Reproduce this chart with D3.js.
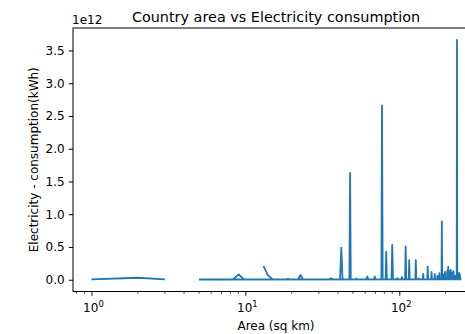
<!DOCTYPE html>
<html>
<head>
<meta charset="utf-8">
<script src="https://cdn.jsdelivr.net/npm/d3@7"></script>
<style>
  body { margin: 0; background: #fff; }
  svg { display: block; font-family: "DejaVu Sans", sans-serif; }
</style>
</head>
<body>
<svg id="chart" width="465" height="334"></svg>
<script>
// data in drawing order, null = gap in the line
const areas = [
  1, 2, 3, 4,
  5, 6.5, 8.3, 9.05, 9.8, 11, 12.4, 12.8,
  13.1, 14, 15, 18.4, 18.9, 19.4, 22, 22.8, 23.7, 35, 36, 37,
  41.2, 42, 42.8, 47.4, 47.9, 48.4, 52, 52.6, 53.2, 61, 62, 63,
  68.5, 69.3, 70, 76.5, 77.2, 78, 81.5, 82.2, 83, 89, 90, 91,
  96, 97, 98, 103, 104, 105, 109, 110, 111, 115.2, 116, 117,
  127, 128, 129, 133, 134, 135, 142, 143, 144, 152, 153, 154,
  161, 162, 163, 169, 170, 171, 176, 177, 178, 181, 182, 183,
  188, 189, 190, 194, 195, 196, 198, 199, 204, 205, 206, 208, 209,
  212, 213, 214, 216, 217, 221, 222, 223, 225, 226, 231, 233,
  236, 237, 238, 242, 243, 246, 250, 6
];
const consumption = [
  5e9, 30e9, 5e9, null,
  3e9, 3e9, 4e9, 80e9, 4e9, 3e9, 3e9, null,
  210e9, 70e9, 8e9, 3e9, 14e9, 3e9, 4e9, 72e9, 4e9, 3e9, 22e9, 3e9,
  4e9, 490e9, 4e9, 4e9, 1630e9, 4e9, 3e9, 20e9, 3e9, 4e9, 50e9, 4e9,
  4e9, 50e9, 4e9, 4e9, 2660e9, 4e9, 4e9, 430e9, 4e9, 4e9, 530e9, 4e9,
  3e9, 25e9, 3e9, 4e9, 40e9, 4e9, 4e9, 510e9, 4e9, 4e9, 300e9, 4e9,
  4e9, 300e9, 4e9, 3e9, 20e9, 3e9, 4e9, 90e9, 4e9, 4e9, 200e9, 4e9,
  4e9, 120e9, 4e9, 4e9, 90e9, 4e9, 4e9, 60e9, 4e9, 4e9, 100e9, 4e9,
  4e9, 890e9, 4e9, 4e9, 80e9, 4e9, 120e9, 4e9, 4e9, 140e9, 4e9, 200e9, 4e9,
  4e9, 130e9, 4e9, 150e9, 4e9, 4e9, 110e9, 4e9, 130e9, 4e9, 60e9, 4e9,
  4e9, 3660e9, 4e9, 100e9, 4e9, 100e9, 4e9, 3e9
];
const yTicks = [0, 0.5e12, 1e12, 1.5e12, 2e12, 2.5e12, 3e12, 3.5e12];
const xTicks = [1, 10, 100];

const points = areas.map((a, i) => ({area: a, kwh: consumption[i]}));

const plotLeft = 73, plotRight = 479, plotTop = 28, plotBottom = 291.5;
const svg = d3.select('#chart');

// matplotlib style 5% margins
const valid = points.filter(d => d.kwh != null);
const lx = d3.extent(valid, d => Math.log10(d.area));
const padX = (lx[1] - lx[0]) * 0.05;
const x = d3.scaleLog()
  .domain([Math.pow(10, lx[0] - padX), Math.pow(10, lx[1] + padX)])
  .range([plotLeft, plotRight]);
const ey = d3.extent(valid, d => d.kwh);
const padY = (ey[1] - ey[0]) * 0.05;
const y = d3.scaleLinear()
  .domain([ey[0] - padY, ey[1] + padY])
  .range([plotBottom, plotTop]);

svg.append('clipPath').attr('id', 'clip')
  .append('rect')
  .attr('x', plotLeft).attr('y', plotTop)
  .attr('width', plotRight - plotLeft).attr('height', plotBottom - plotTop);

const line = d3.line()
  .defined(d => d.kwh != null)
  .x(d => x(d.area))
  .y(d => y(d.kwh));

svg.append('path')
  .datum(points)
  .attr('clip-path', 'url(#clip)')
  .attr('fill', 'none')
  .attr('stroke', '#1f77b4')
  .attr('stroke-width', 1.8)
  .attr('stroke-linejoin', 'round')
  .attr('d', line);

// x axis (log)
const xAxis = svg.append('g')
  .attr('transform', 'translate(0,' + plotBottom + ')')
  .call(d3.axisBottom(x).tickValues(xTicks).tickSize(4.2).tickFormat(''));
xAxis.select('.domain').remove();
xAxis.selectAll('line').attr('stroke', '#000').attr('stroke-width', 1);

const minor = [];
for (let e = -1; e <= 2; e++) {
  for (let m = 2; m <= 9; m++) {
    const v = m * Math.pow(10, e);
    if (v >= x.domain()[0] && v <= x.domain()[1]) minor.push(v);
  }
}
svg.append('g').selectAll('line')
  .data(minor)
  .enter()
  .append('line')
  .attr('x1', d => x(d)).attr('x2', d => x(d))
  .attr('y1', plotBottom).attr('y2', plotBottom + 2.4)
  .attr('stroke', '#000')
  .attr('stroke-width', 0.7);

const xl = svg.append('g').selectAll('text')
  .data(xTicks)
  .enter()
  .append('text')
  .attr('x', d => x(d) + 2)
  .attr('y', 312)
  .attr('text-anchor', 'middle')
  .attr('font-size', 12)
  .attr('fill', '#000');
xl.append('tspan').text('10');
xl.append('tspan')
  .attr('font-size', 8.5)
  .attr('dy', -5.5)
  .text(d => Math.round(Math.log10(d)));

// y axis
const yAxis = svg.append('g')
  .attr('transform', 'translate(' + plotLeft + ',0)')
  .call(d3.axisLeft(y).tickValues(yTicks).tickSize(4.2).tickPadding(4.2)
    .tickFormat(d => (d / 1e12).toFixed(1)));
yAxis.select('.domain').remove();
yAxis.selectAll('line').attr('stroke', '#000').attr('stroke-width', 1);
yAxis.selectAll('text')
  .attr('font-size', 12)
  .attr('font-family', '"DejaVu Sans", sans-serif')
  .attr('fill', '#000');

// spines
svg.append('rect')
  .attr('x', plotLeft).attr('y', plotTop)
  .attr('width', plotRight - plotLeft).attr('height', plotBottom - plotTop)
  .attr('fill', 'none')
  .attr('stroke', '#000')
  .attr('stroke-width', 1);

// texts
svg.append('text')
  .attr('x', 276)
  .attr('y', 22)
  .attr('text-anchor', 'middle')
  .attr('font-size', 14.4)
  .text('Country area vs Electricity consumption');

svg.append('text')
  .attr('x', plotLeft - 1)
  .attr('y', 24)
  .attr('font-size', 12)
  .text('1e12');

svg.append('text')
  .attr('x', 276)
  .attr('y', 329.5)
  .attr('text-anchor', 'middle')
  .attr('font-size', 12)
  .text('Area (sq km)');

svg.append('text')
  .attr('transform', 'translate(37.5,' + ((plotTop + plotBottom) / 2) + ') rotate(-90)')
  .attr('text-anchor', 'middle')
  .attr('font-size', 12)
  .text('Electricity - consumption(kWh)');
</script>
</body>
</html>
